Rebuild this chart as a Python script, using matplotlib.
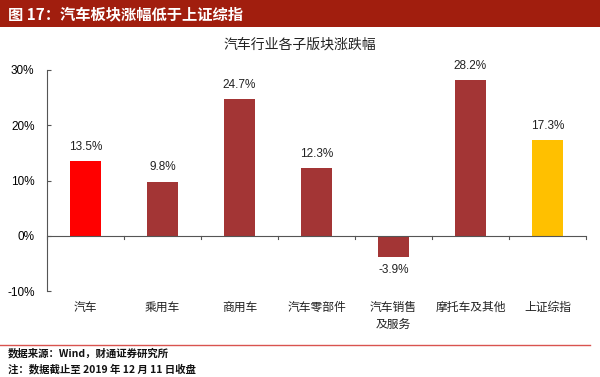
import matplotlib
matplotlib.use("Agg")
import matplotlib.pyplot as plt
from matplotlib.patches import Rectangle
from matplotlib.lines import Line2D

plt.rcParams['font.family'] = ['Noto Sans CJK SC', 'DejaVu Sans']

categories = ["汽车", "乘用车", "商用车", "汽车零部件", "汽车销售\n及服务", "摩托车及其他", "上证综指"]
values = [13.5, 9.8, 24.7, 12.3, -3.9, 28.2, 17.3]
colors = ["#FF0000", "#A33535", "#A33535", "#A33535", "#A33535", "#A33535", "#FFC000"]
yticks = [-10, 0, 10, 20, 30]
ytick_labels = ["-10%", "0%", "10%", "20%", "30%"]

W, H = 600, 377
fig = plt.figure(figsize=(W / 100, H / 100), dpi=100)

# header bar
fig.patches.append(Rectangle((0, 1 - 27 / H), 1, 27 / H, transform=fig.transFigure,
                             facecolor="#A11E0E", edgecolor="none"))
fig.text(8 / W, 1 - 14 / H, "图 17：汽车板块涨幅低于上证综指", color="white",
         fontsize=11, fontweight="bold", va="center", ha="left")

# chart title
fig.text(300 / W, 1 - 45 / H, "汽车行业各子版块涨跌幅", color="#222222",
         fontsize=10, va="center", ha="center")

# footer line and texts
fig.lines.append(Line2D([0, 590 / W], [1 - 345 / H, 1 - 345 / H], transform=fig.transFigure,
                        color="#D9534F", linewidth=1.0))
fig.text(8 / W, 1 - 353 / H, "数据来源：Wind，财通证券研究所", fontsize=7.5,
         fontweight="bold", va="center", ha="left", color="#111111")
fig.text(8 / W, 1 - 369 / H, "注：数据截止至 2019 年 12 月 11 日收盘", fontsize=7.5,
         fontweight="bold", va="center", ha="left", color="#111111")

left, right = 47 / W, 586 / W
top, bottom = 1 - 70 / H, 1 - 291 / H
ax = fig.add_axes([left, bottom, right - left, top - bottom])

x = list(range(len(categories)))
ax.bar(x, values, width=0.39, color=colors, zorder=2)
for xi, v in zip(x, values):
    if v >= 0:
        ax.text(xi, v + 1.5, f"{v:.1f}%", ha="center", va="bottom", fontsize=8.5,
                family="Liberation Sans", color="#222222")
    else:
        ax.text(xi, v - 1.2, f"{v:.1f}%", ha="center", va="top", fontsize=8.5,
                family="Liberation Sans", color="#222222")

ax.set_xlim(-0.5, len(categories) - 0.5)
ax.set_ylim(-10, 30)
ax.set_yticks(yticks)
ax.set_yticklabels(ytick_labels, family="Liberation Sans", fontsize=8.5)
ax.tick_params(axis="y", direction="in", length=3, color="#555555", pad=9)

for s in ["top", "right", "bottom"]:
    ax.spines[s].set_visible(False)
ax.spines["left"].set_color("#555555")
ax.spines["left"].set_linewidth(0.8)

# zero axis line with category-boundary ticks
ax.axhline(0, color="#555555", linewidth=0.8, zorder=3)
for b in [i + 0.5 for i in range(-1, len(categories))]:
    ax.plot([b, b], [0, -0.6], color="#555555", linewidth=0.8, zorder=3, clip_on=False)

ax.set_xticks([])
for xi, c in zip(x, categories):
    ax.text(xi, -11.8, c, ha="center", va="top", fontsize=8.5, color="#222222",
            linespacing=1.4)

fig.savefig("out.png", dpi=100)
